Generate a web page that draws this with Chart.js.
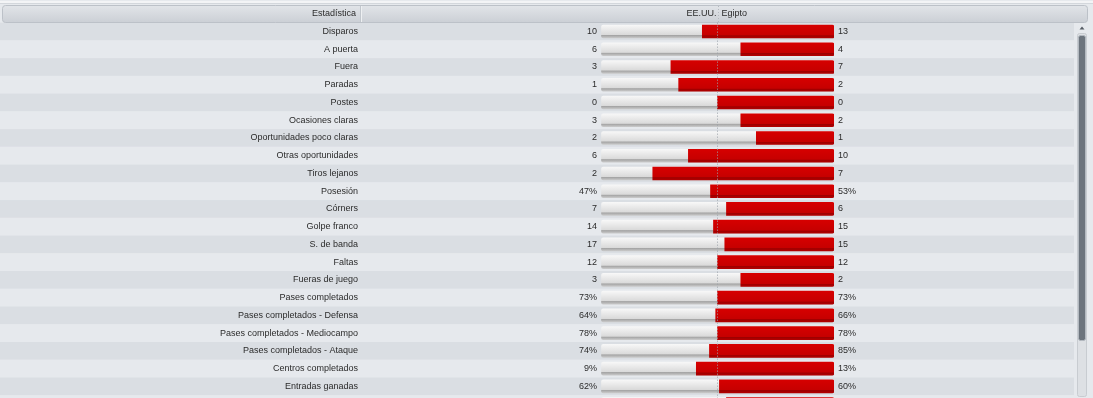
<!DOCTYPE html>
<html>
<head>
<meta charset="utf-8">
<script src="https://cdn.jsdelivr.net/npm/chart.js@4.4.0/dist/chart.umd.min.js"></script>
<style>
  html, body { margin: 0; padding: 0; background: #e6e9ed; overflow: hidden; }
  #wrap { position: absolute; left: 0; top: 0; width: 1093px; height: 420px; }
</style>
</head>
<body>
<div id="wrap"><canvas id="stats" width="1093" height="420"></canvas></div>
<script>
// match stats, EE.UU. vs Egipto
var statLabels = ["Disparos", "A puerta", "Fuera", "Paradas", "Postes", "Ocasiones claras",
  "Oportunidades poco claras", "Otras oportunidades", "Tiros lejanos", "Posesión", "Córners",
  "Golpe franco", "S. de banda", "Faltas", "Fueras de juego", "Pases completados",
  "Pases completados - Defensa", "Pases completados - Mediocampo", "Pases completados - Ataque",
  "Centros completados", "Entradas ganadas", "Cabezazos ganados"];
var usaValues   = [10, 6, 3, 1, 0, 3, 2, 6, 2, 47, 7, 14, 17, 12, 3, 73, 64, 78, 74, 9, 62, 7];
var egyptValues = [13, 4, 7, 2, 0, 2, 1, 10, 7, 53, 6, 15, 15, 12, 2, 73, 66, 78, 85, 13, 60, 6];
var isPercent   = [0, 0, 0, 0, 0, 0, 0, 0, 0, 1, 0, 0, 0, 0, 0, 1, 1, 1, 1, 1, 1, 0];
var teamNames = ["EE.UU.", "Egipto"];
var headerTitle = "Estadística";

var FONT = "9px 'Liberation Sans', Arial, sans-serif";
var TEXT = "#2b2b2b";

// share of the bar taken by the left team (0/0 sits in the middle)
var splits = usaValues.map(function (u, i) {
  var t = u + egyptValues[i];
  return t === 0 ? 0.5 : u / t;
});
var greyBars = splits.map(function () { return [0, 1]; });
var redBars = splits.map(function (s) { return [s, 1]; });

function rowGradient(ctx, stops) {
  var chart = ctx.chart;
  var y = chart.scales && chart.scales.y;
  if (!y || !chart.chartArea) return stops[0][1];
  var yc = y.getPixelForValue(ctx.dataIndex);
  if (!isFinite(yc)) return stops[0][1];
  var g = chart.ctx.createLinearGradient(0, yc - 6.5, 0, yc + 6.5);
  stops.forEach(function (s) { g.addColorStop(s[0], s[1]); });
  return g;
}

var chrome = {
  id: "chrome",
  beforeDraw: function (chart) {
    var c = chart.ctx, y = chart.scales.y, x = chart.scales.x;
    var band = y.height / statLabels.length;
    c.save();
    c.fillStyle = "#e6e9ed";
    c.fillRect(0, 0, chart.width, chart.height);
    // rows
    statLabels.forEach(function (l, i) {
      var yc = y.getPixelForValue(i);
      c.fillStyle = i % 2 === 0 ? "#dadee3" : "#e6e9ed";
      c.fillRect(0, yc - band / 2, 1074, band);
    });
    // top strip
    c.fillStyle = "#f3f4f6";
    c.fillRect(0, 1, chart.width, 2);
    c.fillStyle = "#d3d7dc";
    c.fillRect(0, 3, chart.width, 1);
    // header
    var hg = c.createLinearGradient(0, 5, 0, 22);
    hg.addColorStop(0, "#e2e5e9");
    hg.addColorStop(1, "#ccd0d6");
    c.fillStyle = hg;
    c.beginPath();
    c.roundRect(2.5, 5.5, 1085, 17, 3);
    c.fill();
    c.strokeStyle = "#bcc1c8";
    c.lineWidth = 1;
    c.stroke();
    c.fillStyle = "#c2c7cd";
    c.fillRect(360, 6, 1, 16);
    c.fillStyle = "#eef0f2";
    c.fillRect(361, 6, 1, 16);
    // dotted centre line through header
    var cx = Math.round(x.getPixelForValue(0.5)) + 0.5;
    c.strokeStyle = "#b4b9bf";
    c.setLineDash([1, 2]);
    c.beginPath();
    c.moveTo(cx, 6);
    c.lineTo(cx, chart.chartArea.top);
    c.stroke();
    c.setLineDash([]);
    c.font = FONT;
    c.fillStyle = TEXT;
    c.textBaseline = "middle";
    c.textAlign = "right";
    c.fillText(headerTitle, 356, 14);
    c.fillText(teamNames[0], cx - 2, 14);
    c.textAlign = "left";
    c.fillText(teamNames[1], cx + 3, 14);
    // scrollbar
    c.fillStyle = "#dde0e4";
    c.strokeStyle = "#c8ccd1";
    c.beginPath();
    c.roundRect(1077.5, 33.5, 9, 363, 2);
    c.fill();
    c.stroke();
    c.fillStyle = "#6c747d";
    c.strokeStyle = "#b3b9c0";
    c.beginPath();
    c.roundRect(1078.5, 35.5, 7, 305, 2);
    c.fill();
    c.stroke();
    c.fillStyle = "#555c64";
    c.beginPath();
    c.moveTo(1079.5, 29.5);
    c.lineTo(1084.5, 29.5);
    c.lineTo(1082, 26.5);
    c.closePath();
    c.fill();
    c.restore();
  },
  afterDatasetsDraw: function (chart) {
    var c = chart.ctx, y = chart.scales.y, x = chart.scales.x;
    var left = x.getPixelForValue(0) - 4, right = x.getPixelForValue(1) + 4;
    c.save();
    c.font = FONT;
    c.fillStyle = TEXT;
    c.textBaseline = "middle";
    statLabels.forEach(function (l, i) {
      var yc = y.getPixelForValue(i);
      var suf = isPercent[i] ? "%" : "";
      c.textAlign = "right";
      c.fillText(l, 358, yc);
      c.fillText(usaValues[i] + suf, left, yc);
      c.textAlign = "left";
      c.fillText(egyptValues[i] + suf, right, yc);
    });
    c.restore();
  }
};

new Chart(document.getElementById("stats"), {
  type: "bar",
  data: {
    labels: statLabels,
    datasets: [
      {
        label: teamNames[1],
        data: redBars,
        grouped: false,
        order: 0,
        barThickness: 13,
        borderRadius: 2,
        borderSkipped: "start",
        backgroundColor: function (ctx) {
          return rowGradient(ctx, [[0, "#d60000"], [0.78, "#c60000"], [0.82, "#9c0000"], [1, "#b30000"]]);
        }
      },
      {
        label: teamNames[0],
        data: greyBars,
        grouped: false,
        order: 1,
        barThickness: 13,
        borderRadius: 2,
        borderSkipped: false,
        backgroundColor: function (ctx) {
          return rowGradient(ctx, [[0, "#f7f7f7"], [0.74, "#dadada"], [0.8, "#a4a4a4"], [1, "#c9c9c9"]]);
        }
      }
    ]
  },
  options: {
    indexAxis: "y",
    responsive: false,
    animation: false,
    layout: { padding: { left: 601, top: 22.65, right: 259, bottom: 7 } },
    plugins: { legend: { display: false }, tooltip: { enabled: false } },
    scales: {
      x: {
        min: 0,
        max: 1,
        ticks: { display: false, stepSize: 0.5 },
        grid: {
          z: 1,
          drawTicks: false,
          color: function (ctx) { return ctx.tick && ctx.tick.value === 0.5 ? "#9ca2a9" : "rgba(0,0,0,0)"; }
        },
        border: { display: false, dash: [1, 2] }
      },
      y: {
        display: false
      }
    }
  },
  plugins: [chrome]
});
</script>
</body>
</html>
